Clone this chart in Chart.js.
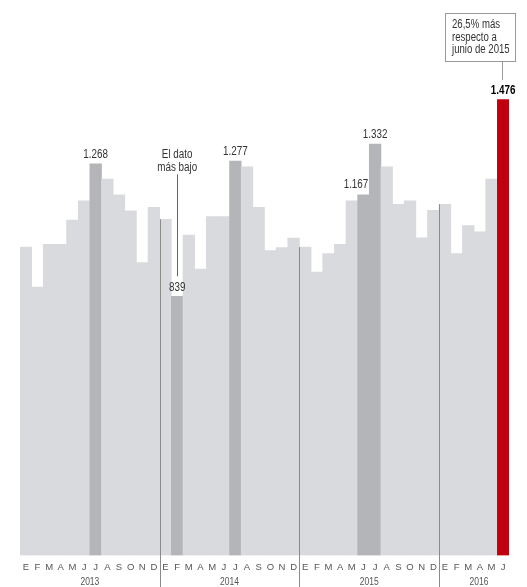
<!DOCTYPE html>
<html>
<head>
<meta charset="utf-8">
<script src="https://cdn.jsdelivr.net/npm/chart.js@4.4.1/dist/chart.umd.min.js"></script>
<style>
  html, body { margin: 0; padding: 0; background: #fff; }
  #wrap { width: 527px; height: 587px; }
</style>
</head>
<body>
<div id="wrap"><canvas id="chart" width="527" height="587"></canvas></div>
<script>
var FONT = '"Liberation Sans", Arial, sans-serif';

var months = ['E','F','M','A','M','J','J','A','S','O','N','D'];
var years = ['2013', '2014', '2015', '2016'];
var values2013 = [998, 869, 1007, 1007, 1086, 1148, 1268, 1218, 1167, 1116, 948, 1127];
var values2014 = [1088, 839, 1037, 927, 1097, 1097, 1277, 1258, 1127, 987, 997, 1027];
var values2015 = [998, 917, 977, 1007, 1148, 1167, 1332, 1258, 1137, 1148, 1028, 1117];
var values2016 = [1137, 977, 1068, 1048, 1218, 1476];

// bars that are shaded darker, and the last (red) one
var darkBars = [6, 13, 18, 29, 30];
var valueLabels = [
  {i: 6, text: '1.268'},
  {i: 13, text: '839'},
  {i: 18, text: '1.277'},
  {i: 29, text: '1.167', align: 'right'},
  {i: 30, text: '1.332'},
  {i: 41, text: '1.476', bold: true}
];
var lowNote = ['El dato', 'más bajo'];
var lastNote = ['26,5% más', 'respecto a', 'junio de 2015'];

var values = values2013.concat(values2014, values2015, values2016);
var labels = [];
var yearStart = [];
[values2013, values2014, values2015, values2016].forEach(function(arr) {
  yearStart.push(labels.length);
  for (var i = 0; i < arr.length; i++) labels.push(months[i]);
});

var colors = values.map(function(v, i) {
  if (i === values.length - 1) return '#c1000f';
  if (darkBars.indexOf(i) >= 0) return '#b4b5b9';
  return '#d9dadd';
});

// narrow text: the original uses a condensed face
function narrowText(c, text, px, py, sx) {
  c.save();
  c.translate(px, py);
  c.scale(sx || 0.82, 1);
  c.fillText(text, 0, 0);
  c.restore();
}

var annotations = {
  id: 'annotations',
  afterDraw: function(chart) {
    var c = chart.ctx, x = chart.scales.x, y = chart.scales.y;
    var bw = x.getPixelForValue(1) - x.getPixelForValue(0);
    var bottom = chart.height;
    c.save();

    // year separators and year labels
    c.font = '10px ' + FONT;
    c.fillStyle = '#555';
    c.textAlign = 'center';
    c.textBaseline = 'middle';
    for (var k = 0; k < years.length; k++) {
      var s = yearStart[k];
      var e = k + 1 < years.length ? yearStart[k + 1] - 1 : values.length - 1;
      var left = x.getPixelForValue(s) - bw / 2;
      var right = x.getPixelForValue(e) + bw / 2;
      if (k > 0) {
        c.strokeStyle = '#8a8a8a';
        c.lineWidth = 1;
        c.beginPath();
        c.moveTo(Math.round(left) + 0.5, y.getPixelForValue(values[s]));
        c.lineTo(Math.round(left) + 0.5, bottom);
        c.stroke();
      }
      narrowText(c, years[k], (left + right) / 2 + (k === 3 ? 5 : 0), bottom - 5, 0.85);
    }

    // value labels
    c.textBaseline = 'bottom';
    valueLabels.forEach(function(l) {
      var cx = x.getPixelForValue(l.i);
      var top = y.getPixelForValue(values[l.i]);
      c.font = (l.bold ? 'bold ' : '') + '12px ' + FONT;
      c.fillStyle = l.bold ? '#000' : '#333';
      if (l.align === 'right') {
        c.textAlign = 'right';
        narrowText(c, l.text, cx + bw / 2 - 1, top - 4);
      } else {
        c.textAlign = 'center';
        narrowText(c, l.text, cx, top - 3);
      }
    });

    // note for the lowest value
    var low = valueLabels[1];
    var lx = x.getPixelForValue(low.i);
    var ly = y.getPixelForValue(values[low.i]);
    c.font = '12px ' + FONT;
    c.fillStyle = '#333';
    c.textAlign = 'center';
    c.textBaseline = 'middle';
    narrowText(c, lowNote[0], lx, ly - 142);
    narrowText(c, lowNote[1], lx, ly - 129);
    c.strokeStyle = '#666';
    c.beginPath();
    c.moveTo(Math.round(lx) + 0.5, ly - 122);
    c.lineTo(Math.round(lx) + 0.5, ly - 20);
    c.stroke();

    // boxed note for the last bar
    var rx = x.getPixelForValue(values.length - 1);
    var bx = Math.round(rx) - 57.5, by = 13.5, bwid = 70, bh = 48;
    c.strokeStyle = '#999';
    c.strokeRect(bx, by, bwid, bh);
    c.beginPath();
    c.moveTo(Math.round(rx) - 0.5, by + bh);
    c.lineTo(Math.round(rx) - 0.5, 80);
    c.stroke();
    c.textAlign = 'left';
    c.fillStyle = '#333';
    c.font = '12px ' + FONT;
    for (var n = 0; n < lastNote.length; n++) {
      narrowText(c, lastNote[n], bx + 6.5, 25 + n * 12.3, 0.8);
    }
    c.restore();
  }
};

var ctx = document.getElementById('chart').getContext('2d');
var chart = new Chart(ctx, {
  type: 'bar',
  data: {
    labels: labels,
    datasets: [{
      data: values,
      backgroundColor: colors,
      borderWidth: 0,
      barPercentage: 1,
      categoryPercentage: 1
    }]
  },
  options: {
    responsive: false,
    animation: false,
    layout: { padding: { left: 20, right: 18, top: 0, bottom: 0 } },
    plugins: { legend: { display: false }, tooltip: { enabled: false } },
    scales: {
      x: {
        grid: { display: false, drawTicks: false },
        border: { display: false },
        ticks: {
          color: '#555',
          font: { family: FONT, size: 9.5 },
          padding: 6,
          autoSkip: false,
          maxRotation: 0
        },
        afterFit: function(scale) { scale.height = 31.5; }
      },
      y: {
        display: false,
        min: 0,
        max: 1798
      }
    }
  },
  plugins: [annotations]
});
</script>
</body>
</html>
